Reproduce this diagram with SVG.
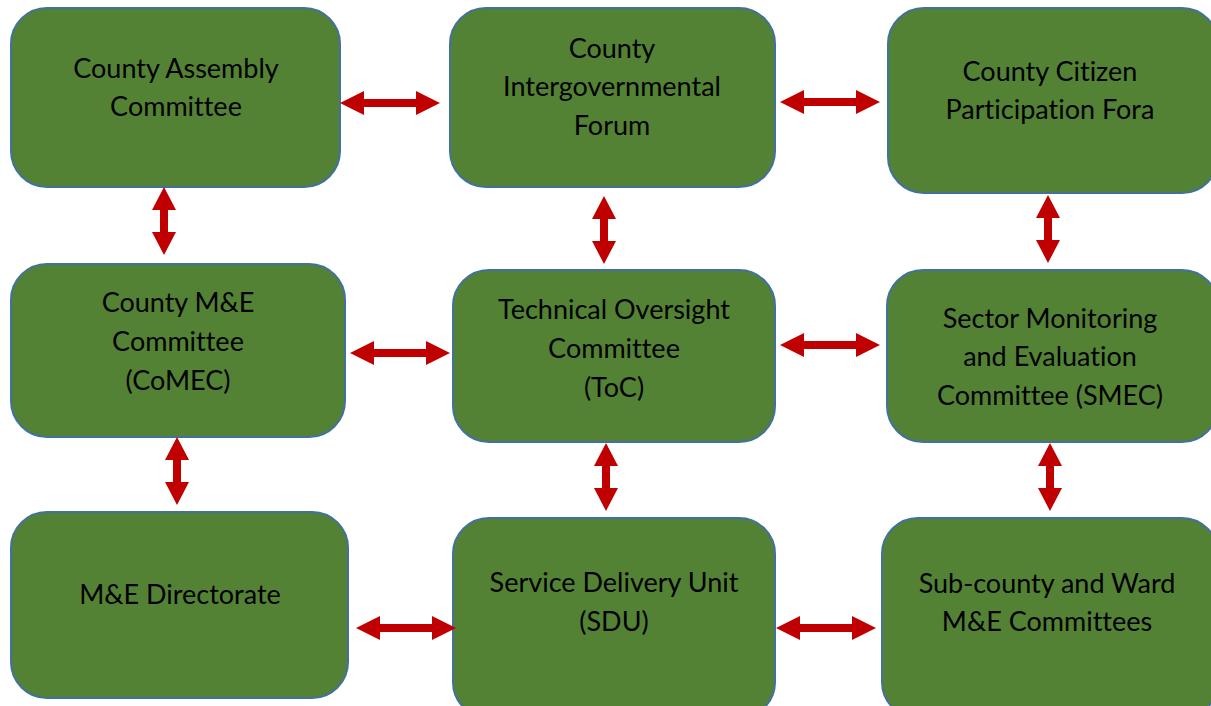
<svg xmlns="http://www.w3.org/2000/svg" width="1211" height="706" viewBox="0 0 1211 706">
  <style>
    .box { fill: #548235; stroke: #41719C; stroke-width: 2; }
    .lbl { font-family: Lato, "Liberation Sans", sans-serif; font-size: 27px; fill: #000; text-anchor: middle; font-variant-ligatures: none; }
    .arr { fill: #C00000; }
  </style>
  <defs>
    <!-- double-headed arrow, horizontal, length 100, centred on origin -->
    <path id="dblH" d="M-50,0 L-26,-12 L-26,-4 L26,-4 L26,-12 L50,0 L26,12 L26,4 L-26,4 L-26,12 Z"/>
    <path id="dblV" d="M0,-34 L-12,-11 L-4,-11 L-4,11 L-12,11 L0,34 L12,11 L4,11 L4,-11 L12,-11 Z"/>
  </defs>

  <g id="county-assembly">
    <rect class="box" x="11" y="8" width="329" height="179" rx="36"/>
    <text class="lbl" x="176" y="78">County Assembly</text>
    <text class="lbl" x="176" y="116">Committee</text>
  </g>
  <g id="intergovernmental-forum">
    <rect class="box" x="450" y="8" width="325" height="179" rx="36"/>
    <text class="lbl" x="612" y="58">County</text>
    <text class="lbl" x="612" y="96">Intergovernmental</text>
    <text class="lbl" x="612" y="135">Forum</text>
  </g>
  <g id="citizen-fora">
    <rect class="box" x="888" y="8" width="330" height="185" rx="36"/>
    <text class="lbl" x="1050" y="81">County Citizen</text>
    <text class="lbl" x="1050" y="119">Participation Fora</text>
  </g>
  <g id="comec">
    <rect class="box" x="11" y="264" width="334" height="173" rx="36"/>
    <text class="lbl" x="178" y="312">County M&amp;E</text>
    <text class="lbl" x="178" y="351">Committee</text>
    <text class="lbl" x="178" y="390">(CoMEC)</text>
  </g>
  <g id="toc">
    <rect class="box" x="453" y="270" width="322" height="172" rx="36"/>
    <text class="lbl" x="614" y="319">Technical Oversight</text>
    <text class="lbl" x="614" y="358">Committee</text>
    <text class="lbl" x="614" y="397">(ToC)</text>
  </g>
  <g id="smec">
    <rect class="box" x="887" y="270" width="331" height="172" rx="36"/>
    <text class="lbl" x="1050" y="328">Sector Monitoring</text>
    <text class="lbl" x="1050" y="366">and Evaluation</text>
    <text class="lbl" x="1050" y="405">Committee (SMEC)</text>
  </g>
  <g id="me-directorate">
    <rect class="box" x="11" y="512" width="337" height="186" rx="36"/>
    <text class="lbl" x="180" y="604">M&amp;E Directorate</text>
  </g>
  <g id="sdu">
    <rect class="box" x="453" y="518" width="322" height="200" rx="36"/>
    <text class="lbl" x="614" y="592">Service Delivery Unit</text>
    <text class="lbl" x="614" y="631">(SDU)</text>
  </g>
  <g id="subcounty-ward">
    <rect class="box" x="882" y="518" width="336" height="200" rx="36"/>
    <text class="lbl" x="1047" y="593">Sub-county and Ward</text>
    <text class="lbl" x="1047" y="631">M&amp;E Committees</text>
  </g>

  <g id="connectors" class="arr">
    <use href="#dblH" x="390" y="103"/>
    <use href="#dblH" x="830" y="102"/>
    <use href="#dblV" x="164" y="221"/>
    <use href="#dblV" x="604" y="230"/>
    <use href="#dblV" x="1048" y="229"/>
    <use href="#dblH" x="400" y="353"/>
    <use href="#dblH" x="830" y="345"/>
    <use href="#dblV" x="177" y="471"/>
    <use href="#dblV" x="606" y="477"/>
    <use href="#dblV" x="1050" y="477"/>
    <use href="#dblH" x="406" y="628"/>
    <use href="#dblH" x="826" y="628"/>
  </g>
</svg>
